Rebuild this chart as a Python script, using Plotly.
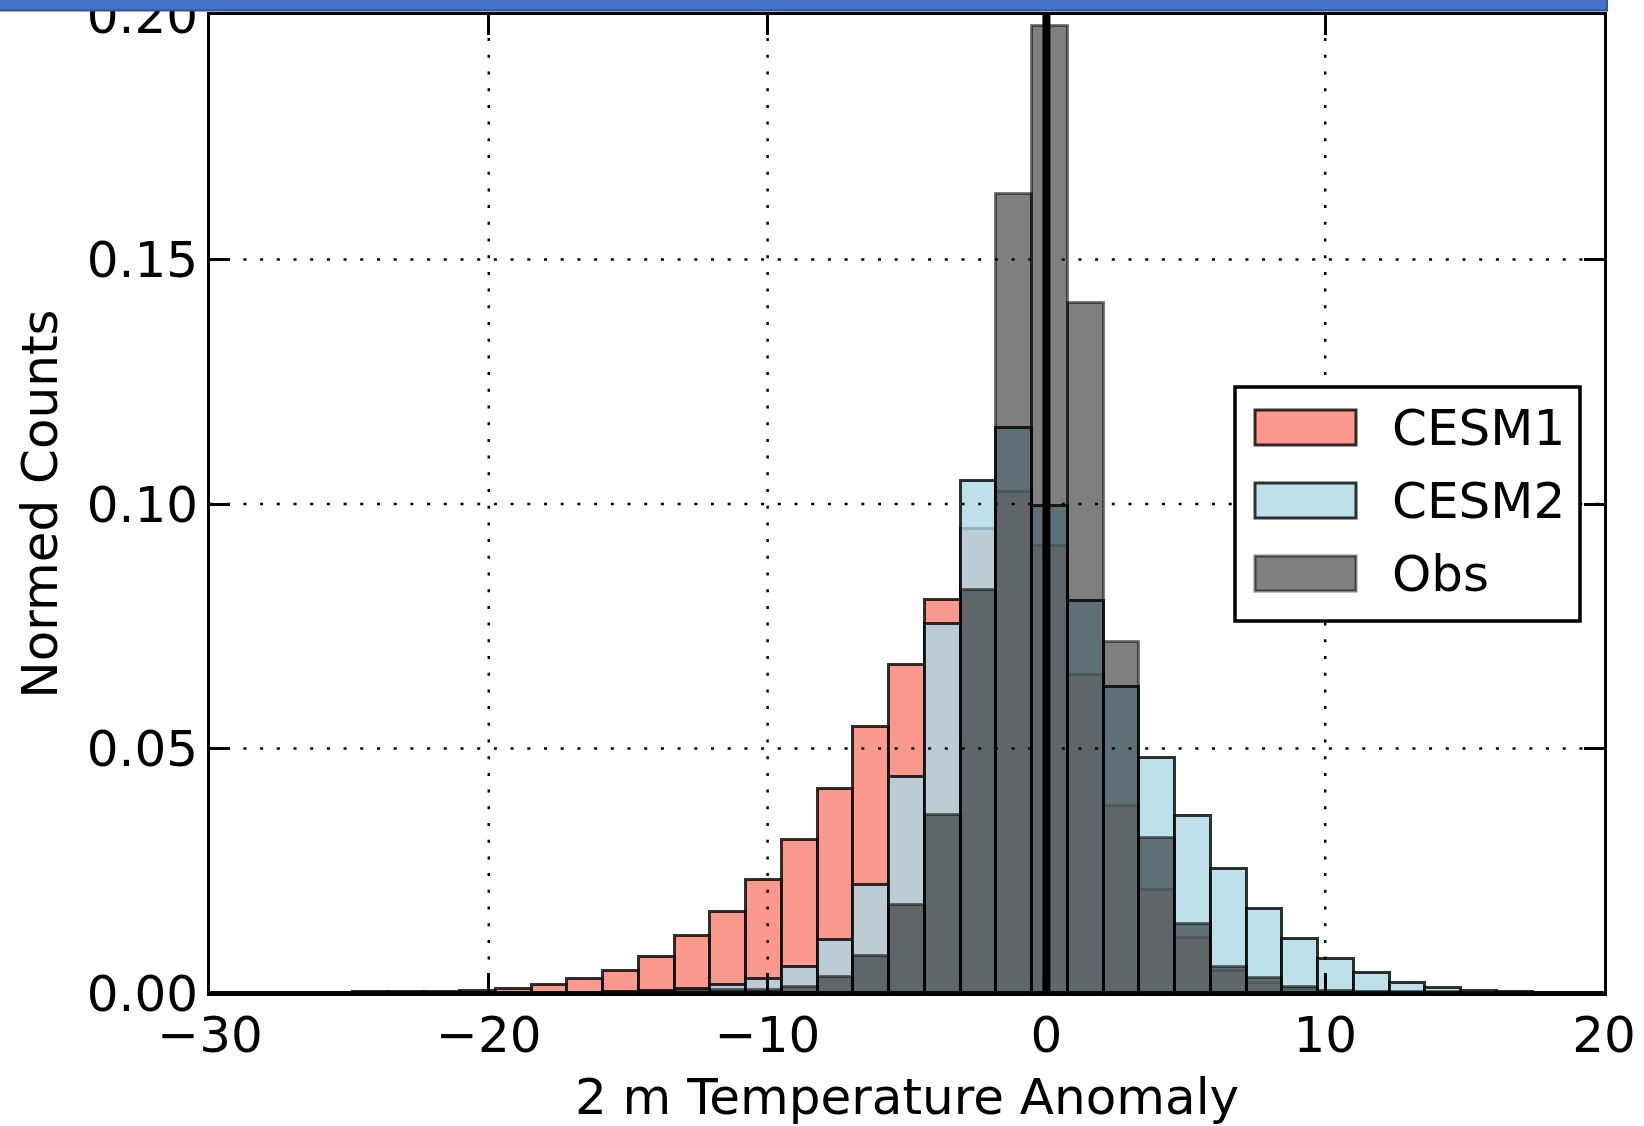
import numpy as np
import plotly.graph_objects as go

# ---------------- data ----------------
bin_edges = np.linspace(-30, 20, 40)          # 39 bins of width 50/39
bin_centers = (bin_edges[:-1] + bin_edges[1:]) / 2
bin_width = bin_edges[1] - bin_edges[0]

series_names = ["CESM1", "CESM2", "Obs"]

cesm1 = [0, 0, 0, 0.0001, 0.0002, 0.0003, 0.0003, 0.0005, 0.0008, 0.0017,
         0.0029, 0.0045, 0.0074, 0.0116, 0.0166, 0.0232, 0.0312, 0.0417, 0.0544, 0.0671,
         0.0804, 0.0948, 0.1024, 0.0914, 0.0651, 0.0382, 0.0210, 0.0113, 0.0045, 0.0020,
         0.0009, 0.0004, 0.0002, 0.0001, 0, 0, 0, 0, 0]

cesm2 = [0, 0, 0, 0, 0, 0, 0, 0, 0, 0,
         0.0001, 0.0002, 0.0004, 0.0008, 0.0016, 0.0029, 0.0054, 0.0109, 0.0220, 0.0442,
         0.0755, 0.1048, 0.1156, 0.0996, 0.0802, 0.0625, 0.0481, 0.0362, 0.0254, 0.0171,
         0.0110, 0.0070, 0.0040, 0.0020, 0.0010, 0.0005, 0.0003, 0.0001, 0]

obs = [0, 0, 0, 0, 0, 0, 0, 0, 0, 0,
       0, 0, 0.0002, 0.0004, 0.0006, 0.0007, 0.0012, 0.0032, 0.0076, 0.0179,
       0.0365, 0.0825, 0.1633, 0.1977, 0.1412, 0.0717, 0.0316, 0.0142, 0.0054, 0.0030,
       0.0013, 0.0005, 0.0003, 0.0002, 0.0002, 0.0001, 0, 0, 0]

x_range = [-30, 20]
y_range = [0, 0.20]
x_ticks = [-30, -20, -10, 0, 10, 20]
y_ticks = [0.00, 0.05, 0.10, 0.15, 0.20]
ref_line_x = 0.0

x_title = "2 m Temperature Anomaly"
y_title = "Normed Counts"

# ---------------- style ----------------
fill_colors = ["rgba(250,128,114,0.8)", "rgba(173,216,230,0.8)", "rgba(0,0,0,0.5)"]
edge_colors = ["rgba(0,0,0,0.8)", "rgba(0,0,0,0.8)", "rgba(0,0,0,0.5)"]
FONT = "DejaVu Sans"
FS = 50

W, H = 1644, 1126
ML, MR, MT, MB = 210, 40, 15, 133
PW, PH = W - ML - MR, H - MT - MB


def px_x(px):
    return (px - ML) / PW


def px_y(py):
    return (H - MB - py) / PH


fig = go.Figure()
for name, vals, fc, ec in zip(series_names, [cesm1, cesm2, obs], fill_colors, edge_colors):
    fig.add_trace(go.Bar(
        x=bin_centers, y=vals, width=bin_width, name=name,
        marker=dict(color=fc, line=dict(color=ec, width=3)),
        showlegend=False,
    ))

axis_common = dict(
    ticks="inside", ticklen=20, tickwidth=2.5, tickcolor="black",
    showline=True, linewidth=3, linecolor="black", mirror="ticks",
    showgrid=False, zeroline=False, ticklabeloverflow="allow",
    tickfont=dict(family=FONT, size=FS, color="black"),
)

fig.update_xaxes(range=x_range, tickvals=x_ticks, ticklabelstandoff=-4,
                 title=dict(text=x_title, font=dict(family=FONT, size=FS, color="black"), standoff=26),
                 **axis_common)
fig.update_yaxes(range=y_range, tickvals=y_ticks, tickformat=".2f", ticklabelstandoff=-1,
                 title=dict(text=y_title, font=dict(family=FONT, size=FS, color="black"), standoff=14),
                 **axis_common)

shapes = []
grid_dash = "3px,13.7px"
for gx in [t for t in x_ticks if x_range[0] < t < x_range[1]]:
    shapes.append(dict(type="line", xref="x", yref="paper", x0=gx, x1=gx, y0=0, y1=1,
                       line=dict(color="black", width=2.5, dash=grid_dash), layer="above"))
for gy in [t for t in y_ticks if y_range[0] < t < y_range[1]]:
    shapes.append(dict(type="line", xref="paper", yref="y", x0=0, x1=1, y0=gy, y1=gy,
                       line=dict(color="black", width=2.5, dash=grid_dash), layer="above"))

# reference vertical line
shapes.append(dict(type="line", xref="x", yref="paper", x0=ref_line_x, x1=ref_line_x, y0=0, y1=1,
                   line=dict(color="black", width=8), layer="above"))

# custom legend (box, patches, labels)
shapes.append(dict(type="rect", xref="paper", yref="paper",
                   x0=px_x(1235), x1=px_x(1580), y0=px_y(621), y1=px_y(387),
                   fillcolor="white", line=dict(color="black", width=3.5), layer="above"))
annotations = []
row_tops = [410, 483, 556]
for name, fc, ec, top in zip(series_names, fill_colors, edge_colors, row_tops):
    shapes.append(dict(type="rect", xref="paper", yref="paper",
                       x0=px_x(1255), x1=px_x(1356), y0=px_y(top + 35), y1=px_y(top),
                       fillcolor=fc, line=dict(color=ec, width=3), layer="above"))
    annotations.append(dict(xref="paper", yref="paper", x=px_x(1390), y=px_y(top + 18),
                            xanchor="left", yanchor="middle", text=name, showarrow=False,
                            font=dict(family=FONT, size=FS, color="black")))

# blue banner at the top of the slide
shapes.append(dict(type="rect", xref="paper", yref="paper",
                   x0=px_x(-2), x1=px_x(1607), y0=px_y(10.5), y1=px_y(-3),
                   fillcolor="#4472C4", line=dict(color="#2F5597", width=2), layer="above"))

fig.update_layout(
    width=W, height=H,
    margin=dict(l=ML, r=MR, t=MT, b=MB, autoexpand=False),
    paper_bgcolor="white", plot_bgcolor="white",
    barmode="overlay", bargap=0,
    shapes=shapes, annotations=annotations,
    showlegend=False,
    font=dict(family=FONT, size=FS, color="black"),
)

fig.write_html("out.html", config={"displayModeBar": False},
               post_script="document.body.style.margin='0px';document.body.style.overflow='hidden';")
